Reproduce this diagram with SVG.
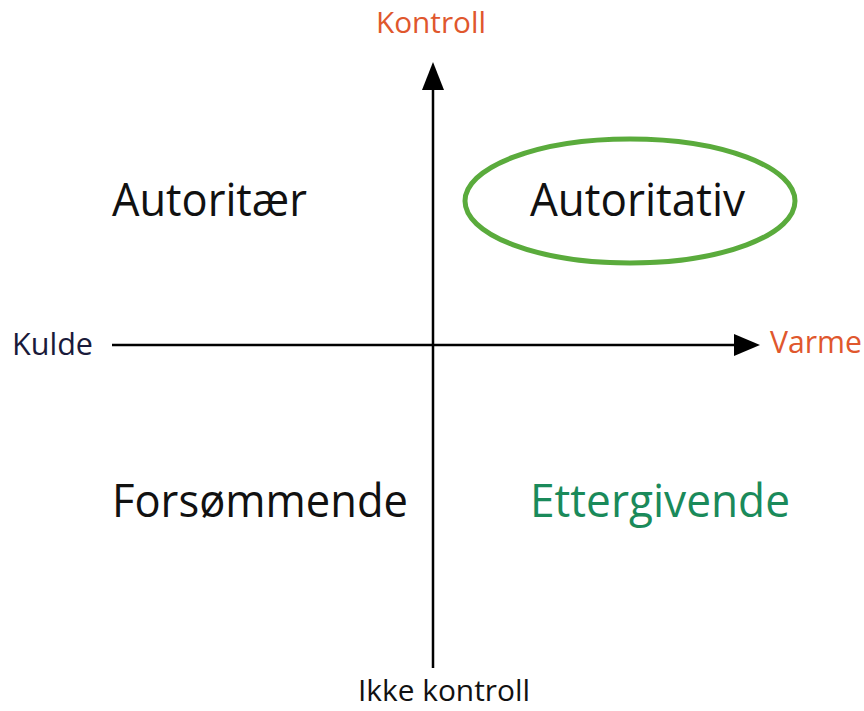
<svg xmlns="http://www.w3.org/2000/svg" width="864" height="711" viewBox="0 0 864 711">
<defs>
<style>
.t{font-family:"Open Sans","Noto Sans","Liberation Sans",sans-serif;}
.ax{font-size:30px;}
.q{font-size:46px;fill:#111;}
.or{fill:#e0572d;}
</style>
</defs>
<rect width="864" height="711" fill="#fff"/>
<g id="connectors">
<line x1="433" y1="668" x2="433" y2="88" stroke="#000" stroke-width="2.5"/>
<path d="M433,62 L444,90 L422,90 Z" fill="#000"/>
<line x1="112" y1="345" x2="736" y2="345" stroke="#000" stroke-width="2.5"/>
<path d="M760,345 L734,334 L734,356 Z" fill="#000"/>
</g>
<g id="label-kontroll"><text class="t ax or" x="431" y="33" text-anchor="middle" textLength="110" lengthAdjust="spacingAndGlyphs">Kontroll</text></g>
<g id="label-ikke-kontroll"><text class="t ax" x="444" y="701" text-anchor="middle" fill="#111" style="font-size:29px" textLength="172" lengthAdjust="spacingAndGlyphs">Ikke kontroll</text></g>
<g id="label-kulde"><text class="t ax" x="12" y="355" fill="#1a1a3a" style="font-size:31px" textLength="81" lengthAdjust="spacingAndGlyphs">Kulde</text></g>
<g id="label-varme"><text class="t ax or" x="770" y="353" style="font-size:31px" textLength="92" lengthAdjust="spacingAndGlyphs">Varme</text></g>
<g id="autoritaer"><text class="t q" x="112" y="216" textLength="195" lengthAdjust="spacingAndGlyphs">Autoritær</text></g>
<g id="autoritativ">
<ellipse cx="630" cy="201" rx="165" ry="62" fill="none" stroke="#5aab3c" stroke-width="5"/>
<text class="t q" x="530" y="216" textLength="215" lengthAdjust="spacingAndGlyphs">Autoritativ</text>
</g>
<g id="forsommende"><text class="t q" x="112" y="517" textLength="296" lengthAdjust="spacingAndGlyphs">Forsømmende</text></g>
<g id="ettergivende"><text class="t q" x="530" y="517" style="fill:#1a8a5a" textLength="260" lengthAdjust="spacingAndGlyphs">Ettergivende</text></g>
</svg>
